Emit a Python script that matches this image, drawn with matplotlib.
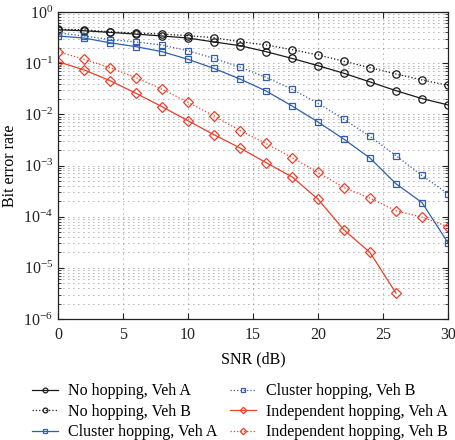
import matplotlib
matplotlib.use("Agg")
import matplotlib.pyplot as plt
import numpy as np
from matplotlib.ticker import LogLocator, LogFormatterMathtext, MultipleLocator, NullFormatter

plt.rcParams['font.family'] = ['Liberation Serif', 'DejaVu Serif']
plt.rcParams['mathtext.fontset'] = 'custom'
plt.rcParams['mathtext.rm'] = 'Liberation Serif'
plt.rcParams['mathtext.it'] = 'Liberation Serif:italic'
plt.rcParams['mathtext.bf'] = 'Liberation Serif:bold'

snr = [0, 2, 4, 6, 8, 10, 12, 14, 16, 18, 20, 22, 24, 26, 28, 30]
snr_ind_a = [0, 2, 4, 6, 8, 10, 12, 14, 16, 18, 20, 22, 24, 26]

no_hop_a = [0.45, 0.43, 0.40, 0.37, 0.34, 0.31, 0.26, 0.22, 0.168, 0.124, 0.0895, 0.0634, 0.043, 0.029, 0.0203, 0.0153]
no_hop_b = [0.46, 0.45, 0.41, 0.39, 0.37, 0.345, 0.315, 0.263, 0.227, 0.184, 0.145, 0.109, 0.0818, 0.0615, 0.047, 0.037]
clu_hop_a = [0.34, 0.31, 0.25, 0.21, 0.168, 0.119, 0.079, 0.049, 0.0287, 0.0146, 0.0071, 0.00326, 0.0014, 4.4e-4, 1.89e-4, 3.1e-5]
clu_hop_b = [0.39, 0.34, 0.29, 0.26, 0.226, 0.175, 0.124, 0.084, 0.053, 0.031, 0.0165, 0.008, 0.0037, 0.00156, 6.4e-4, 2.8e-4]
ind_hop_a = [0.107, 0.074, 0.0455, 0.0258, 0.0141, 0.0075, 0.004, 0.0022, 0.00114, 6.0e-4, 2.2e-4, 5.5e-5, 2.0e-5, 3.2e-6]
ind_hop_b = [0.168, 0.119, 0.082, 0.052, 0.031, 0.0172, 0.0093, 0.0048, 0.0027, 0.00143, 7.3e-4, 3.7e-4, 2.3e-4, 1.3e-4, 9.8e-5, 6.4e-5]

labels = ["No hopping, Veh A", "No hopping, Veh B", "Cluster hopping, Veh A",
          "Cluster hopping, Veh B", "Independent hopping, Veh A", "Independent hopping, Veh B"]

black = '#1a1a1a'
blue = '#2f5fad'
red = '#e8412c'

fig = plt.figure(figsize=(4.55, 4.40), dpi=100)
ax = fig.add_axes([0.1275, 0.275, 0.857, 0.6977])

mew = 0.9
h = []
h += ax.plot(snr, no_hop_a, '-', color=black, marker='o', mfc='none', ms=5.3, mew=mew, lw=0.9)
h += ax.plot(snr, no_hop_b, ':', color=black, marker='o', mfc='none', ms=5.3, mew=mew, lw=0.9)
h += ax.plot(snr, clu_hop_a, '-', color=blue, marker='s', mfc='none', ms=4.5, mew=mew, lw=0.9)
h += ax.plot(snr, clu_hop_b, ':', color=blue, marker='s', mfc='none', ms=4.5, mew=mew, lw=0.9)
h += ax.plot(snr_ind_a, ind_hop_a, '-', color=red, marker='D', mfc='none', ms=5, mew=mew, lw=0.9)
h += ax.plot(snr, ind_hop_b, ':', color=red, marker='D', mfc='none', ms=5, mew=mew, lw=0.9)

ax.set_yscale('log')
ax.set_xlim(0, 30)
ax.set_ylim(1e-6, 1)
ax.xaxis.set_major_locator(MultipleLocator(5))
ax.yaxis.set_major_locator(LogLocator(base=10, numticks=10))
ax.yaxis.set_minor_locator(LogLocator(base=10, subs=np.arange(2, 10), numticks=10))
ax.yaxis.set_major_formatter(LogFormatterMathtext())
ax.yaxis.set_minor_formatter(NullFormatter())

ax.grid(True, which='major', axis='both', color='#666666', lw=0.6, linestyle=(0, (1, 5)))
ax.grid(True, which='minor', axis='y', color='#666666', lw=0.6, linestyle=(0, (1, 5)))

ax.tick_params(which='both', direction='in', top=True, right=True, labelsize=11.5, colors='#222222')
ax.tick_params(which='major', length=4)
ax.tick_params(which='minor', length=2)
ax.tick_params(axis='x', pad=6)
for s in ax.spines.values():
    s.set_linewidth(0.9)
    s.set_color('#222222')

ax.set_xlabel('SNR (dB)', fontsize=11.5, labelpad=6)
ax.set_ylabel('Bit error rate', fontsize=11.5)

fig.legend(h, labels, loc='center left', bbox_to_anchor=(32 / 455, 1 - 411.7 / 440), ncol=2, frameon=False,
           fontsize=11.5, handlelength=1.6, columnspacing=0.8, labelspacing=0.28, handletextpad=0.65,
           borderpad=0, borderaxespad=0, markerscale=0.65)

fig.savefig('out.png', dpi=100)
